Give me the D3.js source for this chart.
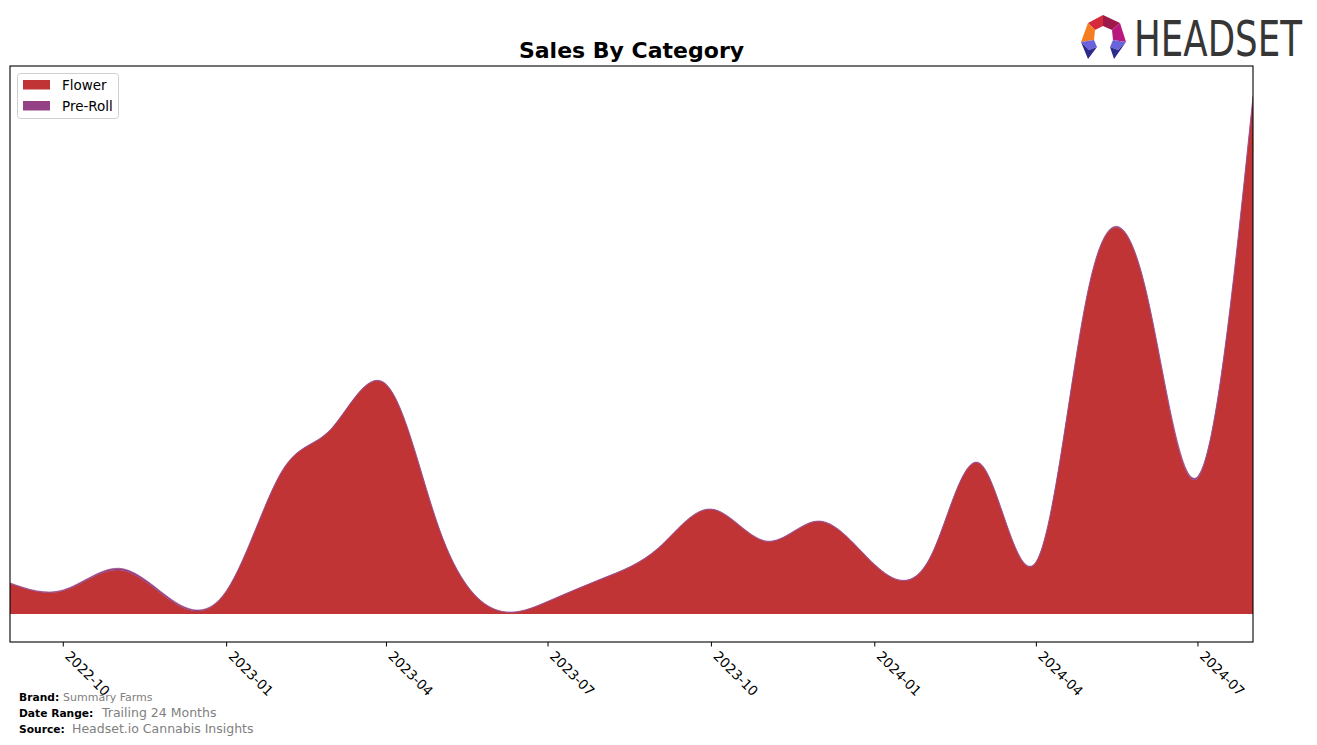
<!DOCTYPE html>
<html>
<head>
<meta charset="utf-8">
<script src="https://cdn.jsdelivr.net/npm/d3@7"></script>
<style>
  html, body { margin: 0; padding: 0; background: #fff; }
  svg { display: block; font-family: "DejaVu Sans", sans-serif; }
</style>
</head>
<body>
<svg id="chart" width="1317" height="745"></svg>
<script>
// ---- data ----
const months = ["2022-09","2022-10","2022-11","2022-12","2023-01","2023-02","2023-03","2023-04",
  "2023-05","2023-06","2023-07","2023-08","2023-09","2023-10","2023-11","2023-12",
  "2024-01","2024-02","2024-03","2024-04","2024-05","2024-06","2024-07","2024-08"];
const flower = [3050, 2330, 4400, 1300, 2300, 14200, 18500, 22900,
  8350, 450, 1250, 3550, 6550, 10450, 7250, 9250,
  4900, 5550, 14900, 5200, 33000, 32800, 13600, 51550];
const preRoll = [60, 80, 180, 160, 60, 50, 50, 50,
  40, 30, 30, 40, 40, 50, 50, 50,
  50, 50, 60, 70, 90, 120, 180, 220];
const seriesNames = ["Flower", "Pre-Roll"];
const colors = ["#c13435", "#944283"];
const tickLabels = ["2022-10","2023-01","2023-04","2023-07","2023-10","2024-01","2024-04","2024-07"];

(function () {
const svg = d3.select("#chart");
const parse = d3.timeParse("%Y-%m");
const rows = months.map((m, i) => ({date: parse(m), "Flower": flower[i], "Pre-Roll": preRoll[i]}));

const L = 10, R = 1253, T = 66, B = 642;
const x = d3.scaleTime().domain(d3.extent(rows, d => d.date)).range([L, R]);
const y = d3.scaleLinear().domain([-2800, 54800]).range([B, T]);

const layers = d3.stack().keys(seriesNames)(rows);

const area = d3.area()
  .x(d => x(d.data.date))
  .y0(d => y(d[0]))
  .y1(d => y(d[1]))
  .curve(d3.curveNatural);

svg.append("clipPath").attr("id", "plotclip")
  .append("rect").attr("x", L).attr("y", T).attr("width", R - L).attr("height", B - T);

const g = svg.append("g").attr("clip-path", "url(#plotclip)");
g.selectAll("path.layer").data(layers).enter().append("path")
  .attr("class", "layer")
  .attr("d", area)
  .attr("fill", (d, i) => colors[i])
  .attr("stroke", (d, i) => i === 1 ? colors[i] : "none")
  .attr("stroke-width", 0.6);

// frame
svg.append("rect").attr("x", L).attr("y", T).attr("width", R - L).attr("height", B - T)
  .attr("fill", "none").attr("stroke", "#000").attr("stroke-width", 1.1);

// x axis
const tickDates = tickLabels.map(parse);
const axis = svg.append("g");
axis.selectAll("line").data(tickDates).enter().append("line")
  .attr("x1", d => x(d)).attr("x2", d => x(d))
  .attr("y1", B).attr("y2", B + 4.5)
  .attr("stroke", "#000").attr("stroke-width", 1);
axis.selectAll("text").data(tickDates).enter().append("text")
  .attr("transform", d => `translate(${x(d) + 1},${B + 15}) rotate(45)`)
  .attr("font-size", 13.5)
  .text((d, i) => tickLabels[i]);

// title
svg.append("text").attr("x", (L + R) / 2).attr("y", 58)
  .attr("text-anchor", "middle").attr("font-size", 22).attr("font-weight", "bold")
  .text("Sales By Category");

// legend
const lg = svg.append("g");
lg.append("rect").attr("x", 17.5).attr("y", 73.5).attr("width", 101).attr("height", 45)
  .attr("rx", 3).attr("fill", "#fff").attr("stroke", "#d0d0d0");
seriesNames.forEach((n, i) => {
  lg.append("rect").attr("x", 23).attr("y", 80 + i * 21).attr("width", 27).attr("height", 9.5).attr("fill", colors[i]);
  lg.append("text").attr("x", 62).attr("y", 90 + i * 21).attr("font-size", 13.5).text(n);
});

// footer
const foot = [["Brand:", "Summary Farms", 63, 11], ["Date Range:", "Trailing 24 Months", 102, 12.5], ["Source:", "Headset.io Cannabis Insights", 72, 12.5]];
foot.forEach((f, i) => {
  const yy = 701 + i * 16;
  svg.append("text").attr("x", 19).attr("y", yy).attr("font-size", 10.7).attr("font-weight", "bold").text(f[0]);
  svg.append("text").attr("x", f[2]).attr("y", yy).attr("font-size", f[3]).attr("fill", "#808080").text(f[1]);
});

// logo
const logo = svg.append("g");
const polys = [
  {c: "#d42a3c", p: [[1088,23],[1103,15],[1103,26],[1095,30]]},
  {c: "#9e1a4a", p: [[1103,15],[1120,23],[1112,30],[1103,26]]},
  {c: "#f47d22", p: [[1088,23],[1095,30],[1094,40],[1081,42]]},
  {c: "#b8187e", p: [[1120,23],[1126,42],[1113,40],[1112,30]]},
  {c: "#6a63dc", p: [[1081,42],[1094,40],[1097,47],[1089,50]]},
  {c: "#2c2a8c", p: [[1081,42],[1089,50],[1097,47],[1088,59]]},
  {c: "#6a63dc", p: [[1126,42],[1113,40],[1110,47],[1118,50]]},
  {c: "#2c2a8c", p: [[1126,42],[1118,50],[1110,47],[1114,59]]}
];
polys.forEach(o => logo.append("polygon").attr("points", o.p.map(q => q.join(",")).join(" ")).attr("fill", o.c));
logo.append("text").attr("transform", "translate(1134,56) scale(1,1.42)")
  .attr("font-size", 35)
  .attr("font-family", "'DejaVu Sans', sans-serif")
  .attr("textLength", 168).attr("lengthAdjust", "spacingAndGlyphs")
  .attr("fill", "#363636").text("HEADSET");
})();
</script>
</body>
</html>
